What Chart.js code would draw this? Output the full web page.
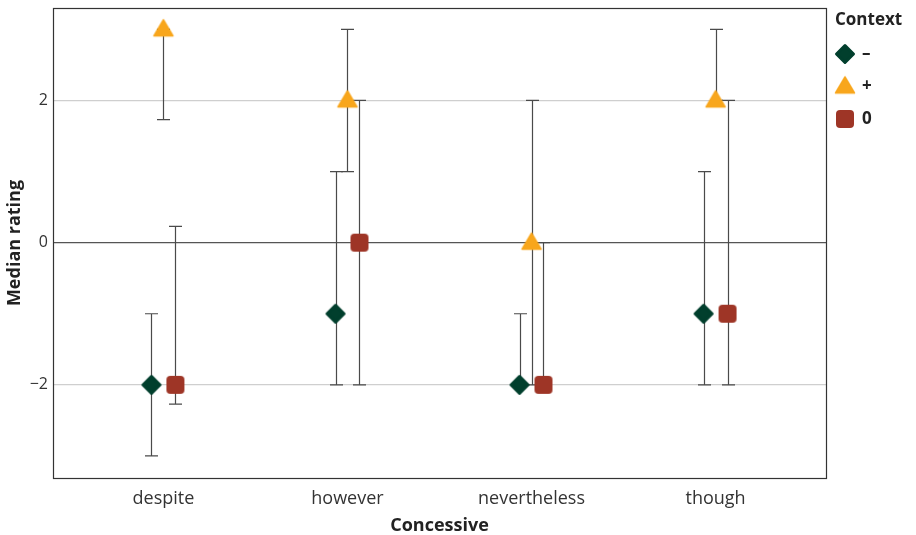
<!DOCTYPE html>
<html>
<head>
<meta charset="utf-8">
<script src="https://cdn.jsdelivr.net/npm/chart.js@4/dist/chart.umd.min.js"></script>
<style>
html,body{margin:0;padding:0;background:#fff;}
#wrap{width:916px;height:535px;position:relative;}
</style>
</head>
<body>
<div id="wrap"><canvas id="c" width="916" height="535"></canvas></div>
<script>
// ---- data ----
const categories = ["despite", "however", "nevertheless", "though"];
const yTicks = [-2, 0, 2];
const seriesNames = ["\u2013", "+", "0"];
const legendTitle = "Context";
const medianMinus = [-2, -1, -2, -1];
const lowerMinus  = [-3, -2, -2, -2];
const upperMinus  = [-1, 1, -1, 1];
const medianPlus  = [3, 2, 0, 2];
const lowerPlus   = [1.73, 1, -2, 2];
const upperPlus   = [3, 3, 2, 3];
const medianZero  = [-2, 0, -2, -1];
const lowerZero   = [-2.27, -2, -2, -2];
const upperZero   = [0.23, 2, 0, 2];

// ---- styles ----
const FONT = "'Open Sans', 'Noto Sans', sans-serif";
const colMinus = '#013f2d', colPlus = '#f8a61c', colZero = '#9e3526';
const dodge = [-0.065, 0, 0.065];

function makeMarker(kind, color) {
  const c = document.createElement('canvas');
  c.width = 24; c.height = 24;
  const g = c.getContext('2d');
  g.fillStyle = color; g.strokeStyle = color; g.lineJoin = 'round';
  g.beginPath();
  if (kind === 'diamond') {
    g.lineWidth = 3;
    g.moveTo(12, 12 - 8.5); g.lineTo(12 + 8.5, 12); g.lineTo(12, 12 + 8.5); g.lineTo(12 - 8.5, 12); g.closePath();
    g.fill(); g.stroke();
  } else if (kind === 'triangle') {
    g.lineWidth = 1.5;
    g.moveTo(12, 12 - 9.5); g.lineTo(12 + 9.5, 12 + 6.5); g.lineTo(12 - 9.5, 12 + 6.5); g.closePath();
    g.fill(); g.stroke();
  } else {
    g.roundRect(12 - 9, 12 - 9, 18, 18, 4);
    g.fill();
  }
  return c;
}
const markers = [makeMarker('diamond', colMinus), makeMarker('triangle', colPlus), makeMarker('square', colZero)];

const medians = [medianMinus, medianPlus, medianZero];
const lowers = [lowerMinus, lowerPlus, lowerZero];
const uppers = [upperMinus, upperPlus, upperZero];
const colors = [colMinus, colPlus, colZero];

const datasets = seriesNames.map((name, s) => ({
  label: name,
  data: categories.map((c, i) => ({x: i + dodge[s], y: medians[s][i]})),
  pointStyle: markers[s],
  backgroundColor: colors[s],
  borderColor: colors[s],
  pointRadius: 10,
  pointHoverRadius: 10,
  showLine: false
}));

const errorBars = {
  id: 'errorBars',
  beforeDatasetsDraw(chart) {
    const g = chart.ctx, xs = chart.scales.x, ys = chart.scales.y;
    g.save();
    g.strokeStyle = '#4a4a4a';
    g.lineWidth = 1.2;
    for (let s = 0; s < 3; s++) {
      for (let i = 0; i < categories.length; i++) {
        const x = Math.round(xs.getPixelForValue(i + dodge[s])) + 0.5;
        const y1 = ys.getPixelForValue(lowers[s][i]);
        const y2 = ys.getPixelForValue(uppers[s][i]);
        g.beginPath();
        g.moveTo(x, y1); g.lineTo(x, y2);
        g.moveTo(x - 6.5, y1); g.lineTo(x + 6.5, y1);
        g.moveTo(x - 6.5, y2); g.lineTo(x + 6.5, y2);
        g.stroke();
      }
    }
    g.restore();
  }
};

const panelBorder = {
  id: 'panelBorder',
  afterDraw(chart) {
    const a = chart.chartArea, g = chart.ctx;
    g.save();
    g.strokeStyle = '#333';
    g.lineWidth = 1.2;
    g.strokeRect(Math.round(a.left) + 0.5, Math.round(a.top) + 0.5, Math.round(a.right - a.left), Math.round(a.bottom - a.top));
    // legend title
    g.fillStyle = '#222';
    g.font = "bold 17px " + FONT;
    g.textAlign = 'left';
    g.textBaseline = 'middle';
    g.fillText(legendTitle, a.right + 9, 20);
    g.restore();
  }
};

// legend: fixed width so the panel ends where the reference's does, small offset for items
const LegendEl = Chart.Legend && Chart.Legend._element;
if (LegendEl) {
  const P = LegendEl.prototype;
  const origFit = P.fit, origDraw = P.draw;
  P.fit = function () { origFit.apply(this, arguments); if (!this.isHorizontal()) this.width = 90; };
  P.draw = function () { const g = this.ctx; g.save(); g.translate(-5, 22); origDraw.apply(this, arguments); g.restore(); };
}

new Chart(document.getElementById('c'), {
  type: 'scatter',
  data: { datasets },
  plugins: [errorBars, panelBorder],
  options: {
    responsive: false,
    animation: false,
    layout: { autoPadding: false, padding: { top: 8, left: 0, right: 0, bottom: 0 } },
    plugins: {
      tooltip: { enabled: false },
      legend: {
        position: 'right',
        align: 'start',
        labels: {
          usePointStyle: true,
          pointStyleWidth: 17,
          color: '#222',
          font: { family: FONT, size: 17, weight: 'bold' },
          padding: 15.5,
          boxWidth: 20,
          boxHeight: 20
        }
      }
    },
    scales: {
      x: {
        type: 'linear',
        min: -0.6, max: 3.6,
        afterBuildTicks: (sc) => { sc.ticks = categories.map((c, i) => ({ value: i })); },
        afterFit: (sc) => { sc.height = 57; sc.paddingLeft = 0; sc.paddingRight = 0; },
        ticks: {
          autoSkip: false, maxRotation: 0, padding: 2,
          color: '#333', font: { family: FONT, size: 18 },
          callback: (v) => categories[v]
        },
        grid: { display: false },
        border: { display: false },
        title: { display: true, text: 'Concessive', color: '#222', font: { family: FONT, size: 18, weight: 'bold' }, padding: { top: 0, bottom: -2 } }
      },
      y: {
        type: 'linear',
        min: -3.31, max: 3.30,
        afterBuildTicks: (sc) => { sc.ticks = yTicks.map(v => ({ value: v })); },
        afterFit: (sc) => { sc.width = 53; sc.paddingTop = 0; sc.paddingBottom = 0; },
        ticks: {
          padding: 5, color: '#333', font: { family: FONT, size: 16 },
          callback: (v) => v < 0 ? '\u2212' + Math.abs(v) : String(v)
        },
        grid: {
          drawTicks: false,
          color: (ctx) => ctx.tick && ctx.tick.value === 0 ? '#555' : '#cfcfcf',
          lineWidth: 1.2
        },
        border: { display: false },
        title: { display: true, text: 'Median rating', color: '#222', font: { family: FONT, size: 18, weight: 'bold' }, padding: { top: 4, bottom: 0 } }
      }
    }
  }
});
</script>
</body>
</html>
